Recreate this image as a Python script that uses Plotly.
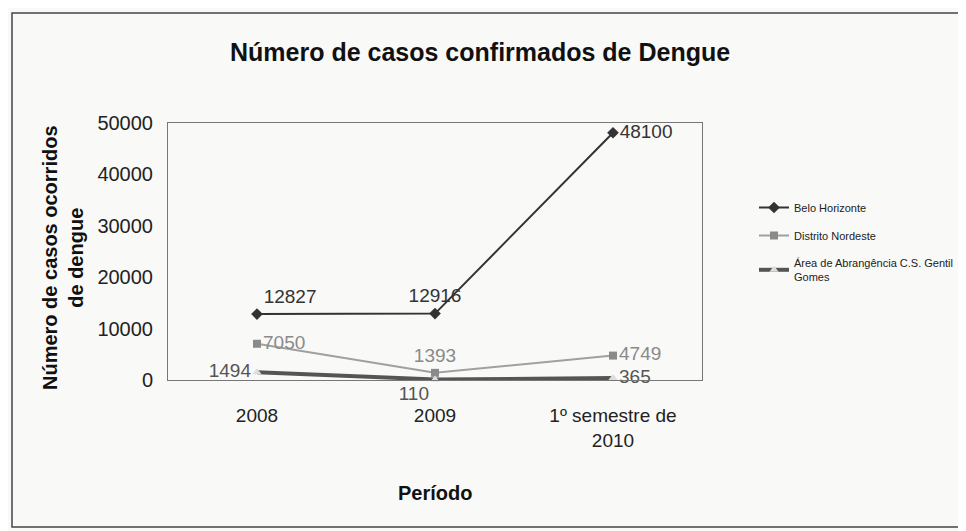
import plotly.graph_objects as go

categories = ["2008", "2009", "1º semestre de<br>2010"]
belo_horizonte = [12827, 12916, 48100]
distrito_nordeste = [7050, 1393, 4749]
area_gentil = [1494, 110, 365]
y_ticks = [0, 10000, 20000, 30000, 40000, 50000]

FONT = "Liberation Sans, Arial, sans-serif"
OFF = 8  # page body margin
W, H = 966, 531
# plot area in screen pixels
SX0, SX1, SY0, SY1 = 168, 702, 123, 380
L, T = SX0 - OFF, SY0 - OFF
R, B = W - (SX1 - OFF), H - (SY1 - OFF)
pw, ph = SX1 - SX0, SY1 - SY0

def px_x(p):
    return (p - SX0) / pw

def px_y(p):
    return (SY1 - p) / ph

fig = go.Figure()
fig.add_trace(go.Scatter(
    x=categories, y=belo_horizonte, name="Belo Horizonte", legendgroup="a",
    mode="lines+markers+text", text=[str(v) for v in belo_horizonte],
    textposition=["top right", "top center", "middle right"],
    textfont=dict(size=19, color="#333333", family=FONT), cliponaxis=False,
    line=dict(color="#333333", width=2), marker=dict(symbol="diamond", size=9, color="#333333"),
))
fig.add_trace(go.Scatter(
    x=categories, y=distrito_nordeste, name="Distrito Nordeste", legendgroup="b",
    mode="lines+markers+text", text=[str(v) for v in distrito_nordeste],
    textposition=["middle right", "top center", "middle right"],
    textfont=dict(size=19, color="#8a8a8a", family=FONT), cliponaxis=False,
    line=dict(color="#a0a0a0", width=2), marker=dict(symbol="square", size=8, color="#8a8a8a"),
))
fig.add_trace(go.Scatter(
    x=categories, y=area_gentil, name="Área de Abrangência C.S. Gentil<br>Gomes", legendgroup="c",
    mode="lines+markers+text", text=[str(v) for v in area_gentil],
    textposition=["middle left", "bottom left", "middle right"],
    textfont=dict(size=19, color="#555555", family=FONT), cliponaxis=False,
    line=dict(color="#555555", width=4), marker=dict(symbol="triangle-up", size=8, color="#dddddd"),
))

fig.update_layout(
    width=W, height=H,
    margin=dict(l=L, r=R, t=T, b=B),
    paper_bgcolor="#f9f9f8", plot_bgcolor="#f9f9f8",
    font=dict(family=FONT, color="#222222"),
    showlegend=True,
    legend=dict(x=px_x(754), y=px_y(193), xanchor="left", yanchor="top",
                font=dict(size=11, color="#222222"), bgcolor="rgba(0,0,0,0)",
                tracegroupgap=9, itemwidth=30),
    xaxis=dict(showline=True, linecolor="#777777", linewidth=1, mirror=True,
               showgrid=False, ticks="", tickfont=dict(size=19, color="#222222"),
               ticklabelstandoff=18, range=[-0.5, 2.5]),
    yaxis=dict(range=[0, 50000], tickvals=y_ticks, ticktext=[str(v) for v in y_ticks],
               showline=True, linecolor="#777777",
               linewidth=1, mirror=True, showgrid=False, zeroline=False,
               ticks="", tickfont=dict(size=20, color="#222222"), ticklabelstandoff=10),
)

fig.add_annotation(text="<b>Número de casos confirmados de Dengue</b>", xref="paper", yref="paper",
                   x=px_x(480), y=px_y(52), xanchor="center", yanchor="middle",
                   showarrow=False, font=dict(size=25, color="#111111"))
fig.add_annotation(text="<b>Número de casos ocorridos<br>de dengue</b>", xref="paper", yref="paper",
                   x=px_x(63), y=px_y(258), xanchor="center", yanchor="middle",
                   showarrow=False, textangle=-90, font=dict(size=20, color="#111111"))
fig.add_annotation(text="<b>Período</b>", xref="paper", yref="paper",
                   x=px_x(435), y=px_y(493), xanchor="center", yanchor="middle",
                   showarrow=False, font=dict(size=20, color="#111111"))
fig.add_shape(type="rect", xref="paper", yref="paper",
              x0=px_x(12), x1=px_x(962), y0=px_y(527), y1=px_y(13),
              line=dict(color="#444444", width=1.5))

fig.write_html("out.html")
